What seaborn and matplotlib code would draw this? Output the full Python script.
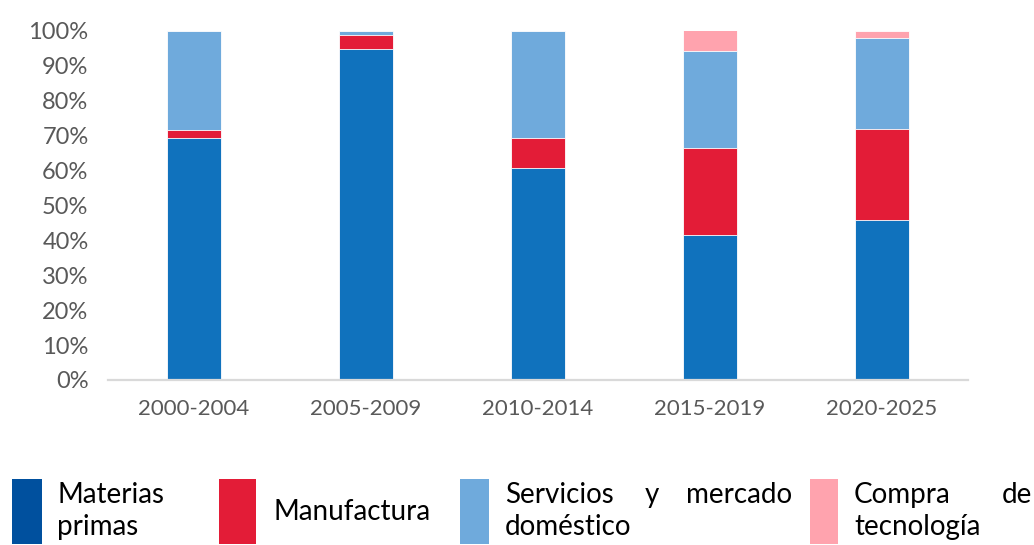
import numpy as np
import pandas as pd
import matplotlib
matplotlib.use("Agg")
import matplotlib.pyplot as plt
import seaborn as sns
from matplotlib.patches import Rectangle

# --- data (shares in %) ---
periods = ['2000-2004', '2005-2009', '2010-2014', '2015-2019', '2020-2025']
materias_primas = [69.3, 94.7, 60.7, 41.4, 45.9]
manufactura = [2.1, 4.0, 8.6, 25.0, 25.9]
servicios = [28.6, 1.3, 30.7, 27.7, 26.0]
compra_tecnologia = [0.0, 0.0, 0.0, 5.9, 2.2]

series_names = ['Materias primas', 'Manufactura', 'Servicios y mercado doméstico', 'Compra de tecnología']
bar_colors = ['#1072BD', '#E31C37', '#6FAADC', '#FFA3AE']
legend_colors = ['#00509E', '#E31C37', '#6FAADC', '#FFA3AE']
yticks = [0, 10, 20, 30, 40, 50, 60, 70, 80, 90, 100]

sns.set_theme(style='white')
plt.rcParams['font.family'] = ['Lato', 'DejaVu Sans']

df = pd.DataFrame({'period': periods,
                   series_names[0]: materias_primas,
                   series_names[1]: manufactura,
                   series_names[2]: servicios,
                   series_names[3]: compra_tecnologia})
# cumulative tops, drawn from the highest layer down
cum = df[series_names].cumsum(axis=1)

W, H = 1034, 545
fig = plt.figure(figsize=(W / 100, H / 100), dpi=100)
ax = fig.add_axes([108 / W, 1 - 380 / H, (968 - 108) / W, (380 - 30.5) / H])

for name, color in reversed(list(zip(series_names, bar_colors))):
    sns.barplot(x=df['period'], y=cum[name], color=color, width=0.31,
                edgecolor='white', linewidth=0.6, saturation=1, ax=ax)

ax.set_ylim(0, 100)
ax.set_xlim(-0.5, 4.5)
ax.set_yticks(yticks)
ax.set_yticklabels([f'{t}%' for t in yticks])
ax.set_xlabel('')
ax.set_ylabel('')
ax.tick_params(axis='y', length=0, pad=14, labelsize=17, labelcolor='#595959')
ax.tick_params(axis='x', length=0, pad=14, labelsize=16, labelcolor='#595959')
for s in ['top', 'right', 'left']:
    ax.spines[s].set_visible(False)
ax.spines['bottom'].set_color('#D9D9D9')
ax.spines['bottom'].set_linewidth(1.6)
ax.grid(False)

# --- custom legend below the chart ---
def px(x, y):
    return x / W, 1 - y / H

patch_x = [(12, 42), (219, 256), (460, 489), (810, 838)]
for (x0, x1), c in zip(patch_x, legend_colors):
    fig.patches.append(Rectangle(px(x0, 544), (x1 - x0) / W, 65 / H,
                                 transform=fig.transFigure, color=c, lw=0))

fs = 20
def t(x, y, s, ha='left'):
    fig.text(*px(x, y), s, fontsize=fs, ha=ha, va='baseline', color='black')

t(57, 503, 'Materias')
t(57, 535, 'primas')
t(273, 520, 'Manufactura')
t(505, 503, 'Servicios')
t(652, 503, 'y', ha='center')
t(792, 503, 'mercado', ha='right')
t(505, 535, 'doméstico')
t(854, 503, 'Compra')
t(1002, 503, 'de')
t(854, 535, 'tecnología')

fig.savefig('out.png', dpi=100)
